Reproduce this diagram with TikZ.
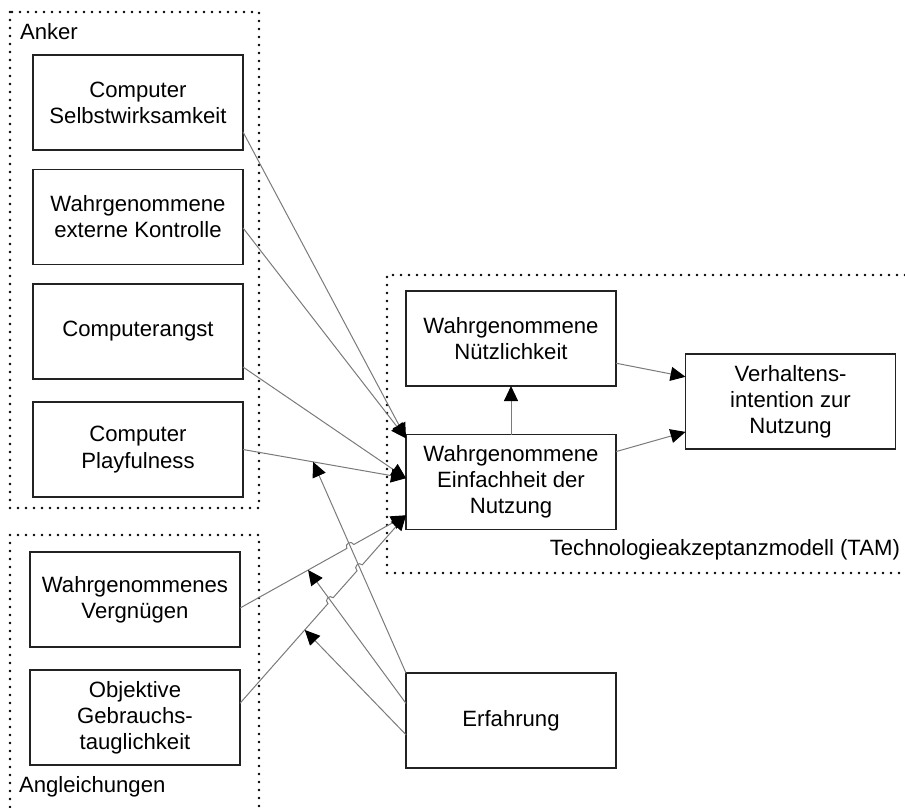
\documentclass[tikz,border=0pt]{standalone}
\usepackage{fontspec}
\setmainfont{Liberation Sans}
\usetikzlibrary{arrows.meta,calc}
\definecolor{boxline}{HTML}{222222}
\definecolor{linegray}{HTML}{7A7A7A}
\begin{document}
\begin{tikzpicture}[x=0.75pt,y=-0.75pt,
  font=\fontsize{16.6pt}{19.6pt}\selectfont,
  box/.style={draw=boxline, line width=1.4pt, minimum width=157.5pt,
    minimum height=71.25pt, align=center, inner sep=0pt, outer sep=0pt},
  group/.style={draw=black, line width=2.1pt, dash pattern=on 0pt off 6pt,
    line cap=round},
  conn/.style={draw=linegray, line width=0.75pt,
    -{Triangle[length=11.25pt,width=10.5pt,color=black,fill=black]}},
  lbl/.style={inner sep=0pt, outer sep=0pt}
]
\useasboundingbox (0,0) rectangle (905,807);

% dotted group frames
\draw[group] (10,12) rectangle (259,508);
\draw[group] (10,807) -- (10,535) -- (259,535) -- (259,807);
\draw[group] (905,275) -- (387,275) -- (387,573) -- (905,573);

\node[lbl, anchor=west] (lanker) at (20,32) {Anker};
\node[lbl, anchor=west] (langl) at (19,787) {Angleichungen};
\node[lbl, anchor=east] (ltam) at (900,550) {Technologieakzeptanzmodell (TAM)};

% external variables
\node[box] (b1) at (138,102.5) {Computer\\Selbstwirksamkeit};
\node[box] (b2) at (138,217) {Wahrgenommene\\externe Kontrolle};
\node[box] (b3) at (138,331.5) {Computerangst};
\node[box] (b4) at (138,449.5) {Computer\\Playfulness};
\node[box] (b5) at (135,599.5) {Wahrgenommenes\\Vergnügen};
\node[box] (b6) at (135,717.5) {Objektive\\Gebrauchs-\\tauglichkeit};

% TAM core
\node[box] (nu) at (511,338.5) {Wahrgenommene\\Nützlichkeit};
\node[box] (ea) at (511,482) {Wahrgenommene\\Einfachheit der\\Nutzung};
\node[box] (vi) at (790.5,401.5) {Verhaltens-\\intention zur\\Nutzung};
\node[box] (er) at (511,720.5) {Erfahrung};

% connector end points on the box borders
\coordinate (s1) at ($(b1.south east)!0.19!(b1.north east)$);
\coordinate (s2) at ($(b2.south east)!0.385!(b2.north east)$);
\coordinate (s3) at ($(b3.south east)!0.126!(b3.north east)$);
\coordinate (s4) at (b4.east);
\coordinate (s5) at ($(b5.south east)!0.41!(b5.north east)$);
\coordinate (s6) at ($(b6.south east)!0.65!(b6.north east)$);
\coordinate (eTop) at ($(ea.north west)!0.04!(ea.south west)$);
\coordinate (eMid) at ($(ea.north west)!0.46!(ea.south west)$);
\coordinate (eBot) at ($(ea.north west)!0.85!(ea.south west)$);
\coordinate (r1) at (er.north west);
\coordinate (r2) at ($(er.north west)!0.32!(er.south west)$);
\coordinate (r3) at ($(er.north west)!0.65!(er.south west)$);

% moderator targets on the connectors
\coordinate (t1) at ($(s4)!0.43!(eMid)$);
\coordinate (t2) at ($(s5)!0.41!(eBot)$);
\coordinate (t3) at ($(s6)!0.39!(eBot)$);

% crossings that get a line jump
\coordinate (x1) at (intersection of s5--eBot and r1--t1);
\coordinate (x2) at (intersection of s6--eBot and r2--t2);
\coordinate (x3) at (intersection of s6--eBot and r1--t1);

% anchors to the ease of use
\draw[conn] (s1) -- (eTop);
\draw[conn] (s2) -- (eTop);
\draw[conn] (s3) -- (eMid);
\draw[conn] (s4) -- (eMid);

% adjustments, with jumps over the experience lines
\draw[conn] (s5) -- ($(x1)!3pt!(s5)$)
  to[bend left=90, looseness=1.7] ($(x1)!3pt!(eBot)$) -- (eBot);
\draw[conn] (s6) -- ($(x2)!3pt!(s6)$)
  to[bend left=90, looseness=1.7] ($(x2)!3pt!(eBot)$)
  -- ($(x3)!3pt!(s6)$)
  to[bend left=90, looseness=1.7] ($(x3)!3pt!(eBot)$) -- (eBot);

% experience as moderator
\draw[conn] (r1) -- (t1);
\draw[conn] (r2) -- (t2);
\draw[conn] (r3) -- (t3);

% TAM relations
\draw[conn] (ea.north) -- (nu.south);
\draw[conn] ($(nu.north east)!0.76!(nu.south east)$) -- ($(vi.north west)!0.24!(vi.south west)$);
\draw[conn] ($(ea.north east)!0.18!(ea.south east)$) -- ($(vi.north west)!0.82!(vi.south west)$);
\end{tikzpicture}
\end{document}
